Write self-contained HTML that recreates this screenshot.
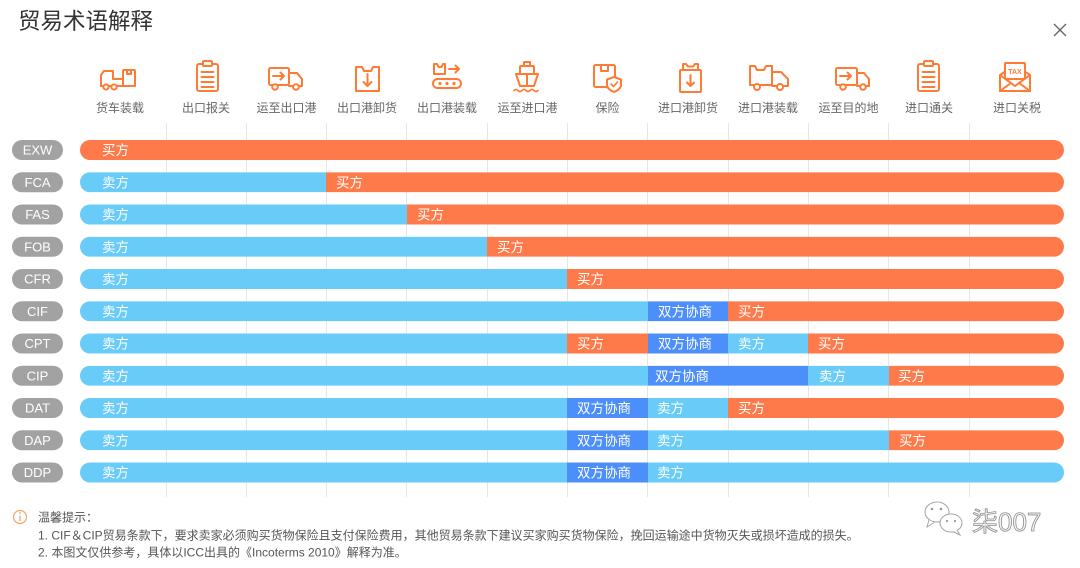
<!DOCTYPE html>
<html><head><meta charset="utf-8">
<style>
html,body{margin:0;padding:0;background:#fff;width:1080px;height:568px;overflow:hidden;}
svg{display:block}
text{font-family:"Liberation Sans","Noto Sans CJK SC",sans-serif;}
.ic{fill:none;stroke:#FF7B34;stroke-width:2;stroke-linejoin:round;stroke-linecap:round;}
.lbl{font-size:12px;fill:#666;text-anchor:middle;}
.pill{fill:#A2A2A2;}
.pt{font-size:13px;fill:#fff;text-anchor:middle;}
.bt{font-size:13.5px;fill:#fff;}
.O{fill:#FF7A4B;}
.B{fill:#68CBF8;}
.D{fill:#4C8EFA;}
.ft{font-size:12px;fill:#555;}
</style></head>
<body>
<svg width="1080" height="568" viewBox="0 0 1080 568" xmlns="http://www.w3.org/2000/svg">
<!-- title -->
<text x="18" y="29" style="font-size:22.5px;fill:#333;">贸易术语解释</text>
<!-- close -->
<path d="M1054 24 L1066 36 M1066 24 L1054 36" stroke="#666" stroke-width="1.4" fill="none"/>

<!-- gridlines -->
<g stroke="#E6E6E6" stroke-width="1">
<line x1="166.5" y1="123" x2="166.5" y2="497"/>
<line x1="246.5" y1="123" x2="246.5" y2="497"/>
<line x1="326.5" y1="123" x2="326.5" y2="497"/>
<line x1="406.5" y1="123" x2="406.5" y2="497"/>
<line x1="487.5" y1="123" x2="487.5" y2="497"/>
<line x1="567.5" y1="123" x2="567.5" y2="497"/>
<line x1="647.5" y1="123" x2="647.5" y2="497"/>
<line x1="728.5" y1="123" x2="728.5" y2="497"/>
<line x1="808.5" y1="123" x2="808.5" y2="497"/>
<line x1="888.5" y1="123" x2="888.5" y2="497"/>
<line x1="969.5" y1="123" x2="969.5" y2="497"/>
</g>

<!-- icons -->
<!-- 1 货车装载 -->
<path class="ic" d="M101 86 V75 L104 71 H113 V79 H123"/>
<path class="ic" d="M101 86 H135"/>
<rect class="ic" x="123" y="70" width="12" height="16" rx="1"/>
<path class="ic" d="M127 70 V74 H131 V70"/>
<circle class="ic" cx="106" cy="87" r="2.6" style="fill:#fff"/>
<circle class="ic" cx="114" cy="87" r="2.6" style="fill:#fff"/>
<!-- 2 出口报关 -->
<rect class="ic" x="197" y="64" width="21" height="27" rx="2"/>
<rect class="ic" x="203" y="61" width="9" height="5" rx="1" style="fill:#fff"/>
<path class="ic" d="M201.5 72 H213.5 M201.5 77 H213.5 M201.5 82 H213.5 M201.5 87 H213.5"/>
<!-- 3 运至出口港 -->
<rect class="ic" x="269" y="68" width="20" height="17" rx="1.5"/>
<path class="ic" d="M289 73 H297 L302 79 V86 H289"/>
<path class="ic" d="M273 76 H284 M280.5 72.5 L284 76 L280.5 79.5"/>
<circle class="ic" cx="275" cy="87" r="2.8" style="fill:#fff"/>
<circle class="ic" cx="296" cy="87" r="2.8" style="fill:#fff"/>
<!-- 4 出口港卸货 -->
<path class="ic" d="M356 67 H362 L364 71 H371 L373 67 H379 V91 H356 Z"/>
<path class="ic" d="M367.5 74 V86 M363.5 82 L367.5 86 L371.5 82"/>
<!-- 5 出口港装载 -->
<path class="ic" d="M434 64 H437 L438.5 67 H441.5 L443 64 H445 V74 H434 Z"/>
<path class="ic" d="M449 69 H459 M455.5 65.5 L459 69 L455.5 72.5"/>
<rect class="ic" x="433" y="79" width="28" height="9" rx="4.5"/>
<circle cx="440" cy="83.5" r="1.6" fill="#FF7B34"/>
<circle cx="447" cy="83.5" r="1.6" fill="#FF7B34"/>
<circle cx="454" cy="83.5" r="1.6" fill="#FF7B34"/>
<!-- 6 运至进口港 -->
<rect class="ic" x="524" y="62" width="6" height="4"/>
<rect class="ic" x="520" y="66" width="14" height="8" rx="1"/>
<path class="ic" d="M516 74 H538 L534 86 H520 Z"/>
<path class="ic" d="M527 74 V86"/>
<path class="ic" d="M514 90.5 q2 -2 4 0 t4 0 t4 0 t4 0 t4 0 t4 0" style="stroke-width:1.6"/>
<!-- 7 保险 -->
<rect class="ic" x="594" y="65" width="21" height="22" rx="1.5"/>
<path class="ic" d="M601 65 V71 H608 V65"/>
<path class="ic" d="M614 77 L621 79.5 V85 C621 88.5 617.5 90.5 614 92 C610.5 90.5 607 88.5 607 85 V79.5 Z" style="fill:#fff"/>
<path class="ic" d="M611 84 L613.5 86.5 L617.5 82" style="stroke-width:1.6"/>
<!-- 8 进口港卸货 -->
<path class="ic" d="M683 70 V64 H686 L688 66.5 H693 L695 64 H698 V70"/>
<rect class="ic" x="680" y="70" width="21" height="22" rx="1"/>
<path class="ic" d="M690.5 75 V86 M687 82.5 L690.5 86 L694 82.5"/>
<!-- 9 进口港装载 -->
<path class="ic" d="M750 66 H755 L757 70 H764 L766 66 H772 V85 H750 Z"/>
<path class="ic" d="M772 72 H781 L788 79 V86 H772"/>
<circle class="ic" cx="757" cy="87" r="3" style="fill:#fff"/>
<circle class="ic" cx="780" cy="87" r="3" style="fill:#fff"/>
<!-- 10 运至目的地 -->
<rect class="ic" x="836" y="68" width="21" height="17" rx="1.5"/>
<path class="ic" d="M857 73 H864 L869 79 V86 H857"/>
<path class="ic" d="M840 76 H851 M847.5 72.5 L851 76 L847.5 79.5"/>
<circle class="ic" cx="843" cy="87" r="2.8" style="fill:#fff"/>
<circle class="ic" cx="863" cy="87" r="2.8" style="fill:#fff"/>
<!-- 11 进口通关 -->
<rect class="ic" x="918" y="64" width="21" height="27" rx="2"/>
<rect class="ic" x="924" y="61" width="9" height="5" rx="1" style="fill:#fff"/>
<path class="ic" d="M922.5 72 H934.5 M922.5 77 H934.5 M922.5 82 H934.5 M922.5 87 H934.5"/>
<!-- 12 进口关税 -->
<path class="ic" d="M1000 75 L1015 65 L1030 75 V91 H1000 Z"/>
<rect class="ic" x="1005" y="63" width="20" height="16" rx="1" style="fill:#fff"/>
<text x="1015" y="74" style="font-size:7px;font-weight:bold;fill:#FF7B34;text-anchor:middle;">TAX</text>
<path class="ic" d="M1000 75 L1015 86 L1030 75 M1000 91 L1011 83 M1030 91 L1019 83" style="fill:none"/>

<!-- column labels -->
<text class="lbl" x="120" y="112">货车装载</text>
<text class="lbl" x="206" y="112">出口报关</text>
<text class="lbl" x="286.5" y="112">运至出口港</text>
<text class="lbl" x="367" y="112">出口港卸货</text>
<text class="lbl" x="447" y="112">出口港装载</text>
<text class="lbl" x="527.5" y="112">运至进口港</text>
<text class="lbl" x="607.5" y="112">保险</text>
<text class="lbl" x="688" y="112">进口港卸货</text>
<text class="lbl" x="768" y="112">进口港装载</text>
<text class="lbl" x="848.5" y="112">运至目的地</text>
<text class="lbl" x="929" y="112">进口通关</text>
<text class="lbl" x="1017" y="112">进口关税</text>

<!-- pills -->
<g>
<rect class="pill" x="12" y="140" width="51" height="20" rx="10"/><text class="pt" x="37.5" y="154.7">EXW</text>
<rect class="pill" x="12" y="172.25" width="51" height="20" rx="10"/><text class="pt" x="37.5" y="186.95">FCA</text>
<rect class="pill" x="12" y="204.5" width="51" height="20" rx="10"/><text class="pt" x="37.5" y="219.2">FAS</text>
<rect class="pill" x="12" y="236.75" width="51" height="20" rx="10"/><text class="pt" x="37.5" y="251.45">FOB</text>
<rect class="pill" x="12" y="269" width="51" height="20" rx="10"/><text class="pt" x="37.5" y="283.7">CFR</text>
<rect class="pill" x="12" y="301.25" width="51" height="20" rx="10"/><text class="pt" x="37.5" y="315.95">CIF</text>
<rect class="pill" x="12" y="333.5" width="51" height="20" rx="10"/><text class="pt" x="37.5" y="348.2">CPT</text>
<rect class="pill" x="12" y="365.75" width="51" height="20" rx="10"/><text class="pt" x="37.5" y="380.45">CIP</text>
<rect class="pill" x="12" y="398" width="51" height="20" rx="10"/><text class="pt" x="37.5" y="412.7">DAT</text>
<rect class="pill" x="12" y="430.25" width="51" height="20" rx="10"/><text class="pt" x="37.5" y="444.95">DAP</text>
<rect class="pill" x="12" y="462.5" width="51" height="20" rx="10"/><text class="pt" x="37.5" y="477.2">DDP</text>
</g>

<!-- bars -->
<defs>
<clipPath id="bars">
<rect x="80" y="140" width="984" height="20" rx="10"/>
<rect x="80" y="172.25" width="984" height="20" rx="10"/>
<rect x="80" y="204.5" width="984" height="20" rx="10"/>
<rect x="80" y="236.75" width="984" height="20" rx="10"/>
<rect x="80" y="269" width="984" height="20" rx="10"/>
<rect x="80" y="301.25" width="984" height="20" rx="10"/>
<rect x="80" y="333.5" width="984" height="20" rx="10"/>
<rect x="80" y="365.75" width="984" height="20" rx="10"/>
<rect x="80" y="398" width="984" height="20" rx="10"/>
<rect x="80" y="430.25" width="984" height="20" rx="10"/>
<rect x="80" y="462.5" width="984" height="20" rx="10"/>
</clipPath>
</defs>
<g clip-path="url(#bars)">
<rect class="O" x="80" y="140" width="984" height="20"/>
<rect class="B" x="80" y="172.25" width="246" height="20"/><rect class="O" x="326" y="172.25" width="738" height="20"/>
<rect class="B" x="80" y="204.5" width="327" height="20"/><rect class="O" x="407" y="204.5" width="657" height="20"/>
<rect class="B" x="80" y="236.75" width="407" height="20"/><rect class="O" x="487" y="236.75" width="577" height="20"/>
<rect class="B" x="80" y="269" width="487" height="20"/><rect class="O" x="567" y="269" width="497" height="20"/>
<rect class="B" x="80" y="301.25" width="568" height="20"/><rect class="D" x="648" y="301.25" width="80" height="20"/><rect class="O" x="728" y="301.25" width="336" height="20"/>
<rect class="B" x="80" y="333.5" width="487" height="20"/><rect class="O" x="567" y="333.5" width="81" height="20"/><rect class="D" x="648" y="333.5" width="80" height="20"/><rect class="B" x="728" y="333.5" width="80" height="20"/><rect class="O" x="808" y="333.5" width="256" height="20"/>
<rect class="B" x="80" y="365.75" width="568" height="20"/><rect class="D" x="648" y="365.75" width="160" height="20"/><rect class="B" x="808" y="365.75" width="81" height="20"/><rect class="O" x="889" y="365.75" width="175" height="20"/>
<rect class="B" x="80" y="398" width="487" height="20"/><rect class="D" x="567" y="398" width="81" height="20"/><rect class="B" x="648" y="398" width="80" height="20"/><rect class="O" x="728" y="398" width="336" height="20"/>
<rect class="B" x="80" y="430.25" width="487" height="20"/><rect class="D" x="567" y="430.25" width="81" height="20"/><rect class="B" x="648" y="430.25" width="241" height="20"/><rect class="O" x="889" y="430.25" width="175" height="20"/>
<rect class="B" x="80" y="462.5" width="487" height="20"/><rect class="D" x="567" y="462.5" width="81" height="20"/><rect class="B" x="648" y="462.5" width="416" height="20"/>
</g>

<!-- bar texts -->
<g>
<text class="bt" x="102" y="155">买方</text>
<text class="bt" x="102" y="187.25">卖方</text><text class="bt" x="336" y="187.25">买方</text>
<text class="bt" x="102" y="219.5">卖方</text><text class="bt" x="417" y="219.5">买方</text>
<text class="bt" x="102" y="251.75">卖方</text><text class="bt" x="497" y="251.75">买方</text>
<text class="bt" x="102" y="284">卖方</text><text class="bt" x="577" y="284">买方</text>
<text class="bt" x="102" y="316.25">卖方</text><text class="bt" x="658" y="316.25">双方协商</text><text class="bt" x="738" y="316.25">买方</text>
<text class="bt" x="102" y="348.5">卖方</text><text class="bt" x="577" y="348.5">买方</text><text class="bt" x="658" y="348.5">双方协商</text><text class="bt" x="738" y="348.5">卖方</text><text class="bt" x="818" y="348.5">买方</text>
<text class="bt" x="102" y="380.75">卖方</text><text class="bt" x="655" y="380.75">双方协商</text><text class="bt" x="819" y="380.75">卖方</text><text class="bt" x="898" y="380.75">买方</text>
<text class="bt" x="102" y="413">卖方</text><text class="bt" x="577" y="413">双方协商</text><text class="bt" x="657" y="413">卖方</text><text class="bt" x="738" y="413">买方</text>
<text class="bt" x="102" y="445.25">卖方</text><text class="bt" x="577" y="445.25">双方协商</text><text class="bt" x="657" y="445.25">卖方</text><text class="bt" x="899" y="445.25">买方</text>
<text class="bt" x="102" y="477.5">卖方</text><text class="bt" x="577" y="477.5">双方协商</text><text class="bt" x="657" y="477.5">卖方</text>
</g>

<!-- footer -->
<circle cx="20" cy="517" r="6.5" fill="none" stroke="#F5A46A" stroke-width="1.2"/>
<path d="M20 515.5 V521" stroke="#F5A46A" stroke-width="1.3"/>
<circle cx="20" cy="513" r="0.9" fill="#F5A46A"/>
<text class="ft" x="38" y="521.5">温馨提示：</text>
<text class="ft" x="38" y="539.5">1. CIF＆CIP贸易条款下，要求卖家必须购买货物保险且支付保险费用，其他贸易条款下建议买家购买货物保险，挽回运输途中货物灭失或损坏造成的损失。</text>
<text class="ft" x="38" y="556.5">2. 本图文仅供参考，具体以ICC出具的《Incoterms 2010》解释为准。</text>

<!-- watermark -->
<g fill="#fff" stroke="#A5A5A5" stroke-width="1">
<ellipse cx="937" cy="512" rx="12" ry="10"/>
<path d="M929 520 L927 527 L934 522.5"/>
<ellipse cx="951" cy="523" rx="11" ry="9"/>
<path d="M957 530 L960 535 L953 531.5"/>
</g>
<g fill="#999">
<circle cx="932" cy="509" r="1.3"/><circle cx="941" cy="509" r="1.3"/>
<circle cx="947" cy="521" r="1.1"/><circle cx="955" cy="521" r="1.1"/>
</g>
<text x="972" y="531" style="font-size:26px;fill:#F6F6F6;stroke:#8C8C8C;stroke-width:0.8;">柒007</text>
</svg>
</body></html>
